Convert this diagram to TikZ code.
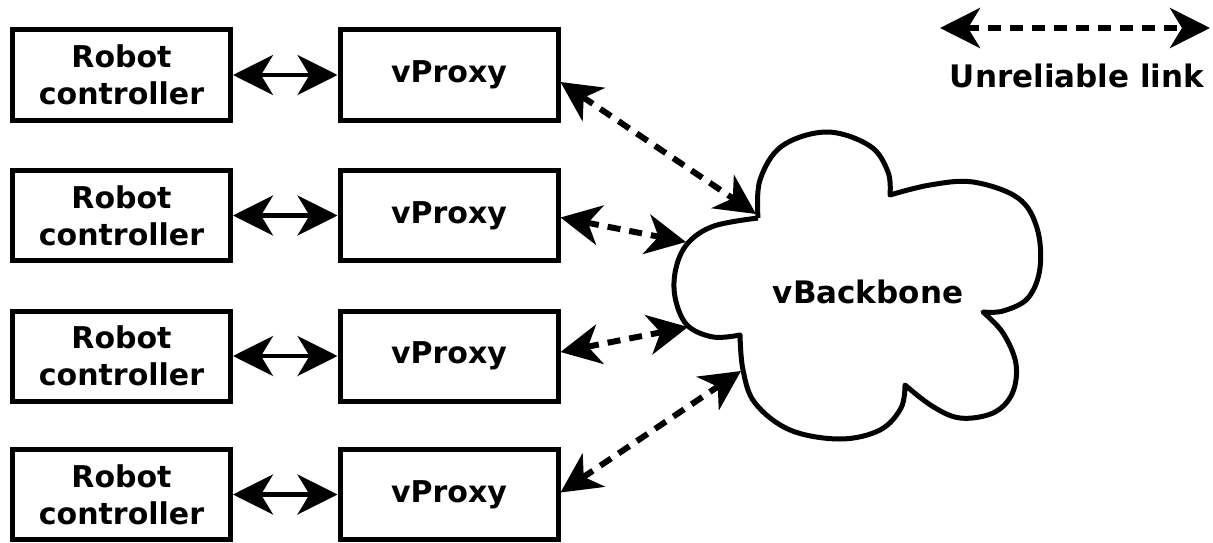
\documentclass[tikz,border=0pt]{standalone}
\usepackage{fontspec}
\setmainfont{DejaVu Sans}
\usetikzlibrary{arrows.meta}
\begin{document}
\begin{tikzpicture}[x=1pt,y=-1pt,
  box/.style={draw,line width=5pt,minimum width=218pt,minimum height=90pt,align=center,inner sep=0pt,
    font=\bfseries\fontsize{30}{37}\selectfont},
  lbl/.style={font=\bfseries\fontsize{31}{37}\selectfont,inner sep=0pt},
  tip/.tip={Stealth[length=40pt,width=40pt,inset=12pt]},
  solidlink/.style={line width=4.5pt,tip-tip},
  unreliable/.style={line width=6pt,dash pattern=on 13pt off 9pt,tip-tip},
  cloudline/.style={line width=5pt,line join=round}]
\useasboundingbox (0,0) rectangle (1213,543);
% boxes
\foreach \i/\y in {1/75,2/215.5,3/356,4/494.5}{
  \node[box] (rc\i) at (121.5,\y) {Robot\\controller};
  \node[box] (vp\i) at (449,\y) {vProxy};
  \draw[solidlink] (rc\i) -- (vp\i);
}
% cloud
\draw[cloudline]
  plot[smooth,tension=0.6] coordinates {(758,218) (760,180) (782,146) (827,132) (870,146) (888,172) (890,195)}
  -- plot[smooth,tension=0.6] coordinates {(890,195) (930,185) (973,182) (1018,198) (1037,228) (1040,268) (1028,298) (1003,311) (983,312)}
  -- plot[smooth,tension=0.6] coordinates {(983,312) (1003,333) (1016,364) (1012,394) (993,413) (960,418) (932,406) (905,385)}
  -- plot[smooth,tension=0.6] coordinates {(905,385) (901,408) (880,430) (840,439) (790,430) (755,403) (743,370) (740,335)}
  -- plot[smooth,tension=0.6] coordinates {(740,335) (713,337) (687,325) (675,297) (676,268) (688,243) (714,226) (758,218)};
\node[lbl] (bb) at (868,292) {vBackbone};
\coordinate (e1) at (756,214);
\coordinate (e2) at (686,242);
\coordinate (e3) at (688,327);
\coordinate (e4) at (741,371);
\draw[unreliable] ([yshift=-7pt]vp1.east) -- (e1);
\draw[unreliable] ([yshift=-2pt]vp2.east) -- (e2);
\draw[unreliable] ([yshift=4pt]vp3.east) -- (e3);
\draw[unreliable] ([yshift=2pt]vp4.east) -- (e4);
% legend
\coordinate (l1) at (940,28);
\coordinate (l2) at (1210,28);
\draw[unreliable] (l1) -- (l2);
\node[lbl,anchor=base] (leg) at (1077,88) {Unreliable link};
\end{tikzpicture}
\end{document}
